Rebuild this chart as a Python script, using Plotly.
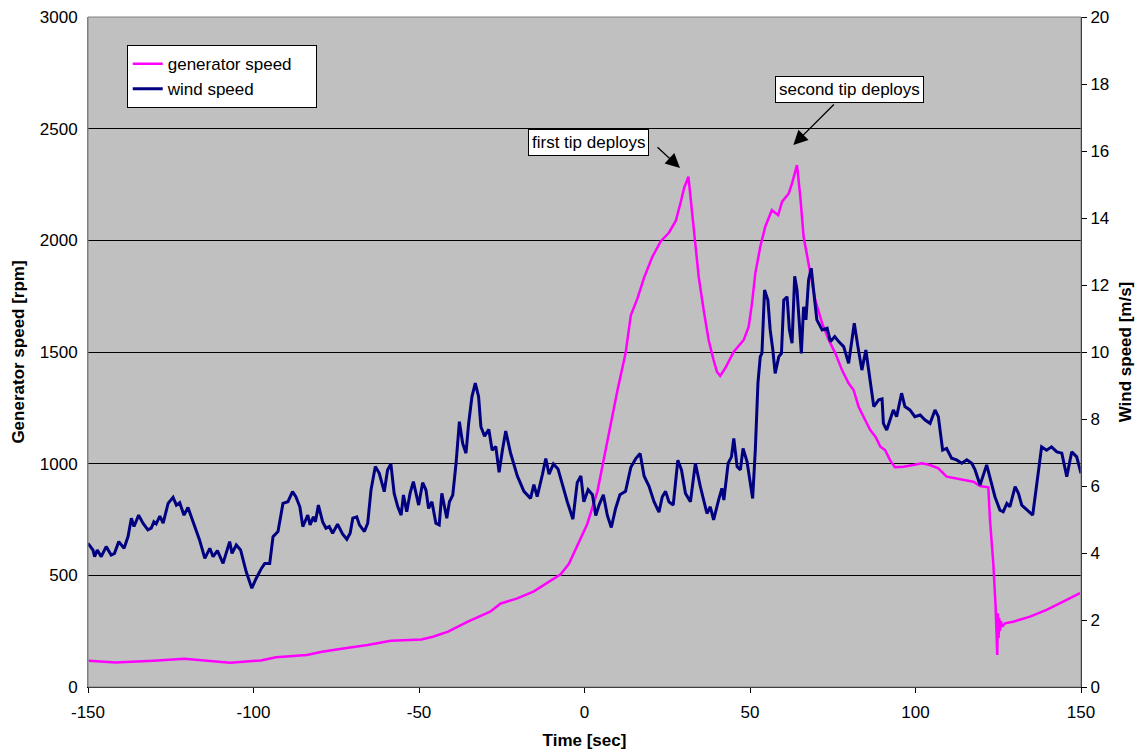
import plotly.graph_objects as go

# Wind speed record [m/s] against time [sec]
wind_t = [-150.0, -148.5, -148.0, -147.2, -146.0, -144.5, -143.0, -142.0, -140.7, -139.1,
          -137.9, -136.9, -136.1, -134.7, -133.4, -131.9, -130.9, -130.1, -129.4, -128.3,
          -127.3, -125.8, -124.3, -123.3, -122.3, -121.0, -119.8, -117.8, -116.3, -114.7,
          -113.2, -112.2, -110.9, -109.2, -107.2, -106.5, -105.2, -103.9, -102.2, -100.5,
          -99.2, -97.6, -96.6, -95.1, -94.1, -92.6, -91.1, -89.6, -88.2, -87.2,
          -86.0, -85.1, -83.6, -82.9, -81.9, -81.3, -80.4, -79.1, -78.1, -77.1,
          -76.1, -74.6, -73.1, -71.8, -70.8, -70.0, -68.8, -68.0, -66.5, -65.5,
          -64.5, -63.2, -62.0, -60.5, -59.5, -58.5, -57.5, -56.4, -55.4, -54.7,
          -53.7, -52.7, -51.7, -50.9, -50.1, -48.9, -47.9, -47.1, -46.1, -44.9,
          -43.9, -43.1, -41.6, -40.8, -39.8, -38.8, -37.8, -36.8, -35.8, -35.0,
          -34.0, -33.0, -32.0, -31.3, -30.2, -28.9, -27.9, -26.8, -25.8, -24.8,
          -23.8, -22.3, -20.3, -18.3, -16.3, -15.3, -14.3, -12.7, -11.7, -10.7,
          -9.4, -8.0, -6.7, -5.2, -3.5, -2.2, -1.1, -0.2, 1.1, 2.4,
          3.4, 4.4, 5.7, 6.9, 8.1, 9.4, 10.7, 12.4, 14.0, 15.5,
          16.8, 18.0, 19.5, 21.0, 22.5, 23.5, 24.5, 25.5, 26.8, 28.2,
          29.3, 30.5, 32.0, 33.5, 35.0, 37.0, 38.0, 39.0, 40.5, 41.5,
          42.1, 43.4, 44.4, 45.1, 46.1, 47.1, 47.9, 49.1, 50.8, 51.6,
          52.4, 53.1, 53.6, 54.4, 55.4, 56.1, 56.9, 57.6, 58.7, 59.5,
          60.2, 61.2, 61.9, 62.7, 63.5, 64.2, 64.9, 65.5, 66.2, 66.9,
          67.7, 68.5, 69.2, 70.2, 71.8, 73.3, 74.3, 75.6, 76.8, 78.3,
          79.8, 81.5, 82.6, 83.8, 85.0, 85.9, 87.4, 88.9, 89.9, 90.3,
          91.3, 93.3, 94.3, 95.8, 96.8, 98.3, 99.8, 101.4, 102.9, 104.4,
          105.9, 106.9, 108.2, 109.4, 110.9, 112.4, 114.0, 115.5, 117.0, 118.0,
          119.5, 121.5, 122.5, 124.0, 125.5, 126.5, 127.6, 128.5, 130.1, 131.1,
          132.1, 133.6, 135.4, 136.6, 138.1, 139.6, 141.1, 142.7, 144.2, 145.7,
          147.2, 148.7, 150.0]
wind_ms = [4.29, 4.09, 3.89, 4.09, 3.89, 4.19, 3.94, 3.99, 4.34, 4.14,
           4.49, 5.04, 4.79, 5.13, 4.89, 4.69, 4.74, 4.93, 4.87, 5.10,
           4.89, 5.48, 5.66, 5.43, 5.50, 5.13, 5.36, 4.79, 4.39, 3.84,
           4.14, 3.89, 4.07, 3.69, 4.34, 3.99, 4.24, 4.09, 3.44, 2.95,
           3.24, 3.54, 3.69, 3.69, 4.49, 4.64, 5.48, 5.53, 5.83, 5.68,
           5.38, 4.79, 5.13, 4.84, 5.08, 4.93, 5.43, 4.93, 4.74, 4.79,
           4.59, 4.86, 4.57, 4.41, 4.59, 5.04, 5.08, 4.84, 4.64, 4.89,
           5.88, 6.58, 6.38, 5.83, 6.48, 6.66, 5.78, 5.38, 5.13, 5.73,
           5.23, 5.78, 6.13, 5.78, 5.43, 6.10, 5.88, 5.33, 5.53, 4.89,
           4.84, 5.78, 5.04, 5.53, 5.73, 6.68, 7.92, 7.27, 6.98, 7.87,
           8.67, 9.07, 8.67, 7.77, 7.49, 7.69, 7.07, 7.18, 6.41, 7.07,
           7.64, 6.97, 6.30, 5.84, 5.63, 6.04, 5.68, 6.35, 6.82, 6.35,
           6.66, 6.51, 6.04, 5.53, 5.01, 6.10, 6.30, 5.53, 5.89, 5.74,
           5.12, 5.43, 5.74, 5.12, 4.76, 5.33, 5.74, 5.84, 6.56, 6.82,
           6.97, 6.30, 5.99, 5.53, 5.22, 5.68, 5.84, 5.53, 5.43, 6.77,
           6.48, 5.78, 5.53, 6.68, 5.98, 5.18, 5.38, 4.99, 5.58, 5.93,
           5.58, 6.68, 6.87, 7.42, 6.58, 6.48, 7.12, 6.73, 5.63, 7.07,
           9.07, 9.86, 9.96, 11.85, 11.55, 10.66, 10.06, 9.36, 9.86, 9.96,
           11.55, 11.65, 10.66, 10.26, 12.26, 11.85, 10.86, 9.96, 11.35, 10.96,
           12.15, 12.50, 11.85, 10.96, 10.66, 10.71, 10.31, 10.46, 10.31, 10.16,
           9.66, 10.86, 10.16, 9.46, 10.06, 9.36, 8.37, 8.57, 8.60, 7.87,
           7.67, 8.27, 8.07, 8.77, 8.37, 8.27, 8.07, 8.12, 7.97, 7.87,
           8.27, 8.07, 7.07, 7.12, 6.83, 6.78, 6.68, 6.78, 6.68, 6.48,
           6.03, 6.63, 6.28, 5.68, 5.28, 5.23, 5.48, 5.38, 5.98, 5.78,
           5.43, 5.28, 5.13, 6.03, 7.17, 7.07, 7.17, 7.02, 6.98, 6.28,
           7.02, 6.87, 6.38]

# Generator speed record [rpm] against time [sec]
gen_t = [-149.8, -141.7, -130.2, -120.9, -114.0, -107.0, -97.8, -93.2, -83.9, -79.3,
         -72.4, -65.5, -58.5, -49.3, -45.8, -41.2, -35.4, -28.5, -25.3, -20.3,
         -15.3, -11.2, -7.2, -4.7, -2.2, 0.8, 3.9, 6.9, 9.9, 12.4,
         14.0, 16.0, 18.0, 20.5, 23.0, 25.5, 27.6, 29.1, 30.1, 31.4,
         32.5, 33.5, 34.5, 36.0, 37.5, 39.0, 40.0, 41.0, 42.5, 45.1,
         48.1, 49.6, 50.6, 51.6, 53.1, 54.6, 56.6, 58.5, 59.7, 61.7,
         62.7, 64.2, 65.2, 66.2, 67.7, 69.7, 71.8, 73.8, 75.8, 77.8,
         79.8, 81.3, 82.8, 84.8, 86.3, 87.9, 89.4, 90.8, 92.3, 93.8,
         96.3, 99.3, 101.9, 104.4, 106.9, 109.4, 112.3, 115.5, 117.5, 119.5,
         122.0, 122.5, 123.5, 124.2, 124.5, 124.7, 124.9, 125.1, 125.3, 125.5,
         125.8, 126.2, 127.0, 129.5, 134.6, 139.6, 144.6, 149.7]
gen_rpm = [118, 110, 118, 127, 118, 109, 119, 133, 143, 158,
           173, 188, 207, 213, 225, 248, 292, 337, 374, 397,
           428, 467, 505, 552, 629, 729, 876, 1107, 1324, 1494,
           1664, 1740, 1833, 1926, 1995, 2034, 2088, 2173, 2235, 2285,
           2136, 1987, 1837, 1688, 1554, 1464, 1412, 1393, 1427, 1501,
           1554, 1613, 1718, 1852, 1971, 2061, 2136, 2113, 2173, 2210,
           2255, 2337, 2195, 2016, 1897, 1733, 1628, 1554, 1494, 1419,
           1360, 1330, 1255, 1196, 1151, 1121, 1076, 1061, 1016, 984,
           986, 994, 1002, 994, 979, 942, 934, 927, 919, 900,
           894, 748, 554, 360, 200, 143, 330, 220, 310, 250,
           295, 270, 285, 292, 315, 345, 382, 420]

x_tick_vals = [-150, -100, -50, 0, 50, 100, 150]
x_tick_text = ["-150", "-100", "-50", "0", "50", "100", "150"]

FONT = "Liberation Sans, Arial, sans-serif"

fig = go.Figure()
fig.add_trace(go.Scatter(x=gen_t, y=gen_rpm, name="generator speed\u00a0\u00a0\u00a0\u00a0",
                         mode="lines", line=dict(color="#FF00FF", width=2.5), yaxis="y"))
fig.add_trace(go.Scatter(x=wind_t, y=wind_ms, name="wind speed", mode="lines",
                         line=dict(color="#000080", width=3), yaxis="y2"))

# callouts: boxed labels plus separate arrows
box = dict(showarrow=False, bgcolor="white", bordercolor="black", borderwidth=1,
           borderpad=3, font=dict(family=FONT, size=17, color="black"))
fig.add_annotation(text="first tip deploys", x=1.2, y=2436, xref="x", yref="y", **box)
fig.add_annotation(text="second tip deploys", x=80.2, y=2675, xref="x", yref="y", **box)
arrow = dict(text="", showarrow=True, arrowhead=2, arrowsize=2.2, arrowwidth=1.3,
             arrowcolor="black", xref="x", yref="y")
fig.add_annotation(x=28.85, y=2324, ax=-24, ay=-22, **arrow)
fig.add_annotation(x=63.1, y=2427, ax=42, ay=-42, **arrow)

# plot-area frame
fig.add_shape(type="rect", xref="paper", yref="paper", x0=0, y0=0, x1=1, y1=1,
              line=dict(color="#808080", width=1), layer="above")

fig.update_layout(
    width=1146, height=755,
    margin=dict(l=88, r=65, t=17, b=68, autoexpand=False),
    paper_bgcolor="white", plot_bgcolor="#C0C0C0",
    font=dict(family=FONT, size=17, color="black"),
    showlegend=True,
    legend=dict(x=0.039, y=0.958, xanchor="left", yanchor="top",
                bgcolor="white", bordercolor="black", borderwidth=1,
                font=dict(family=FONT, size=17), tracegroupgap=0,
                itemwidth=30),
    xaxis=dict(range=[-150, 150], tickvals=x_tick_vals, ticktext=x_tick_text,
               ticks="outside", ticklen=5, tickcolor="black", showline=True,
               linecolor="black", linewidth=1, showgrid=False, zeroline=False,
               automargin=False, ticklabelstandoff=5,
               title=dict(text="<b>Time [sec]</b>", font=dict(size=17), standoff=12)),
    yaxis=dict(range=[0, 3000], dtick=500, ticks="", showline=True,
               linecolor="#808080", linewidth=1, showgrid=True, gridcolor="black",
               gridwidth=1, zeroline=False, ticklabelstandoff=6, automargin=False,
               title=dict(text="<b>Generator speed [rpm]</b>", font=dict(size=17),
                          standoff=10)),
    yaxis2=dict(range=[0, 20], dtick=2, overlaying="y", side="right", ticks="outside",
                ticklen=5, tickcolor="black", showline=True, linecolor="black",
                linewidth=1, showgrid=False, zeroline=False, automargin=False,
                title=dict(text="<b>Wind speed [m/s]</b>", font=dict(size=17),
                           standoff=10)),
)

fig.write_html("out.html")
